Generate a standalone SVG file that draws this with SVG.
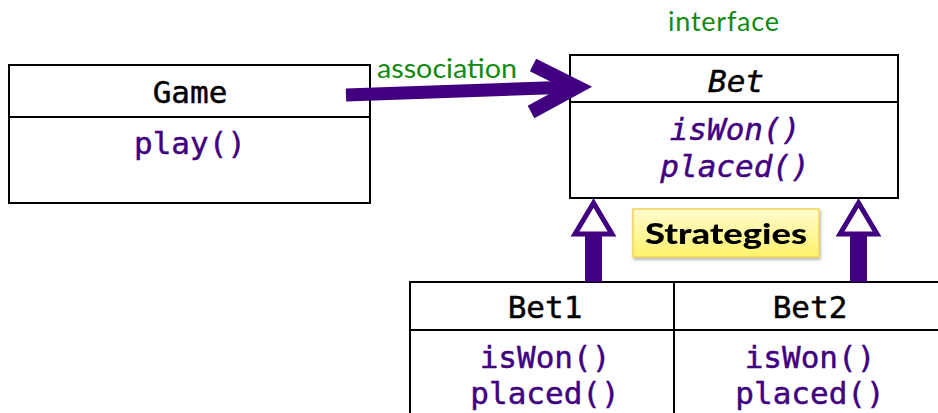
<svg xmlns="http://www.w3.org/2000/svg" width="938" height="413" viewBox="0 0 938 413">
  <defs>
    <linearGradient id="noteFill" x1="0" y1="0" x2="0" y2="1">
      <stop offset="0" stop-color="#fffbd0"/>
      <stop offset="1" stop-color="#fff26a"/>
    </linearGradient>
    <filter id="noteShadow" x="-10%" y="-20%" width="130%" height="160%">
      <feDropShadow dx="1" dy="2" stdDeviation="1.5" flood-color="#000" flood-opacity="0.3"/>
    </filter>
  </defs>
  <style>
    .box { fill: #fff; stroke: #000; stroke-width: 2; }
    .sep { stroke: #000; stroke-width: 2; }
    .name { font-family: "DejaVu Sans Mono", monospace; font-size: 31px; fill: #000; stroke: #000; stroke-width: 0.45px; text-anchor: middle; }
    .op { font-family: "DejaVu Sans Mono", monospace; font-size: 31px; fill: #400080; stroke: #400080; stroke-width: 0.45px; text-anchor: middle; }
    .ital { font-style: italic; }
    .label { font-family: Lato, "Liberation Sans", sans-serif; font-size: 27px; fill: #128a12; }
    .link { stroke: #400080; fill: none; stroke-linecap: butt; }
    .head { fill: #fff; stroke: #400080; stroke-width: 5; stroke-linejoin: miter; }
  </style>

  <!-- Game class -->
  <g id="game">
    <rect class="box" x="9" y="65" width="361" height="138"/>
    <line class="sep" x1="9" y1="117" x2="370" y2="117"/>
    <text class="name" x="190" y="103">Game</text>
    <text class="op" x="190" y="154">play()</text>
  </g>

  <!-- Bet interface -->
  <g id="bet">
    <text class="label" x="668" y="31" textLength="111">interface</text>
    <rect class="box" x="570" y="55" width="328" height="143"/>
    <line class="sep" x1="570" y1="102" x2="898" y2="102"/>
    <text class="name ital" x="736" y="92">Bet</text>
    <text class="op ital" x="735" y="140">isWon()</text>
    <text class="op ital" x="735" y="177">placed()</text>
  </g>

  <!-- Concrete strategies -->
  <g id="bet1">
    <rect class="box" x="410" y="282" width="264" height="140"/>
    <line class="sep" x1="410" y1="330" x2="674" y2="330"/>
    <text class="name" x="545" y="318">Bet1</text>
    <text class="op" x="545" y="368">isWon()</text>
    <text class="op" x="545" y="404">placed()</text>
  </g>
  <g id="bet2">
    <rect class="box" x="674" y="282" width="274" height="140"/>
    <line class="sep" x1="674" y1="330" x2="938" y2="330"/>
    <text class="name" x="810" y="318">Bet2</text>
    <text class="op" x="810" y="368">isWon()</text>
    <text class="op" x="810" y="404">placed()</text>
  </g>

  <!-- Note -->
  <g id="strategies" filter="url(#noteShadow)">
    <rect x="633" y="209" width="186" height="48" fill="url(#noteFill)" stroke="#f2d25a" stroke-width="1.5"/>
    <text x="726" y="244" text-anchor="middle" font-family="Lato, 'Liberation Sans', sans-serif" font-weight="900" font-size="29" fill="#000" textLength="162" lengthAdjust="spacingAndGlyphs">Strategies</text>
  </g>

  <!-- Connectors -->
  <g id="connectors">
    <text class="label" x="377" y="78" textLength="140" lengthAdjust="spacingAndGlyphs">association</text>
    <!-- association: Game -> Bet -->
    <line class="link" x1="346" y1="95" x2="574" y2="87" stroke-width="13"/>
    <polyline class="link" points="533,65 577,87 531,112" stroke-width="14" stroke-linecap="round" stroke-linejoin="miter"/>
    <!-- realization: Bet1 -> Bet -->
    <rect x="585" y="234" width="17" height="48" fill="#400080"/>
    <polygon class="head" points="593.5,203 575,234 612,234"/>
    <!-- realization: Bet2 -> Bet -->
    <rect x="850" y="234" width="17" height="48" fill="#400080"/>
    <polygon class="head" points="858.5,203 840,234 877,234"/>
  </g>
</svg>
